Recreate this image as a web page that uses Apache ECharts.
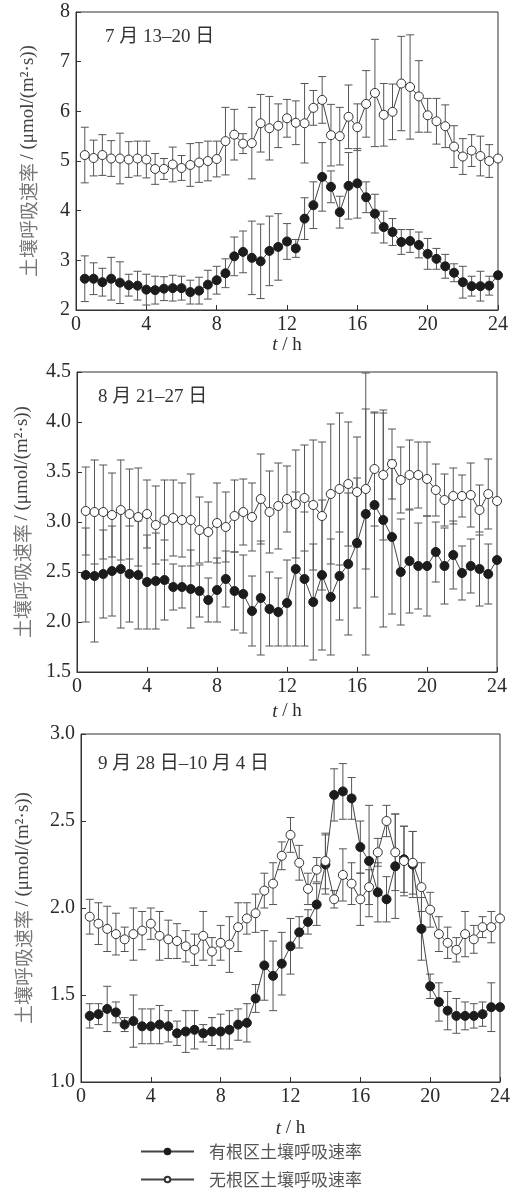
<!DOCTYPE html>
<html>
<head>
<meta charset="utf-8">
<script src="https://cdn.jsdelivr.net/npm/echarts@6/dist/echarts.min.js"></script>
<style>
  html, body { margin: 0; padding: 0; background: #fff; }
  #chart { width: 513px; height: 1192px; }
</style>
</head>
<body>
<div id="chart"></div>
<script>
// hours of the day (half-hour steps)
var hours = [0.5, 1, 1.5, 2, 2.5, 3, 3.5, 4, 4.5, 5, 5.5, 6, 6.5, 7, 7.5, 8,
             8.5, 9, 9.5, 10, 10.5, 11, 11.5, 12, 12.5, 13, 13.5, 14, 14.5, 15, 15.5, 16,
             16.5, 17, 17.5, 18, 18.5, 19, 19.5, 20, 20.5, 21, 21.5, 22, 22.5, 23, 23.5, 24];

var seriesNames = ['有根区土壤呼吸速率', '无根区土壤呼吸速率'];
var panelTitles = ['7 月 13–20 日', '8 月 21–27 日', '9 月 28 日–10 月 4 日'];

// 7月 13-20日
var withRoot1 = [2.63, 2.63, 2.56, 2.63, 2.55, 2.5, 2.49, 2.41, 2.4, 2.43, 2.44, 2.44, 2.36, 2.39, 2.51, 2.6,
                 2.74, 3.08, 3.17, 3.05, 2.98, 3.19, 3.27, 3.38, 3.24, 3.84, 4.11, 4.68, 4.48, 3.97, 4.5, 4.55,
                 4.27, 3.94, 3.67, 3.57, 3.37, 3.39, 3.31, 3.13, 3.03, 2.88, 2.75, 2.56, 2.48, 2.48, 2.49, 2.7];
var withRootErr1 = [0.46, 0.32, 0.28, 0.43, 0.42, 0.22, 0.29, 0.31, 0.28, 0.24, 0.26, 0.24, 0.24, 0.27, 0.29, 0.28,
                    0.29, 0.39, 0.42, 0.74, 0.75, 0.7, 0.67, 0.36, 0.18, 0.42, 0.47, 0.69, 0.32, 0.32, 0.67, 0.7,
                    0.31, 0.39, 0.32, 0.27, 0.25, 0.23, 0.26, 0.31, 0.21, 0.24, 0.18, 0.32, 0.2, 0.3, 0.19, 0];
var noRoot1 = [5.12, 5.06, 5.12, 5.05, 5.05, 5.03, 5.05, 5.03, 4.84, 4.84, 4.93, 4.86, 4.92, 4.97, 5.0, 5.04,
               5.4, 5.53, 5.35, 5.36, 5.76, 5.66, 5.71, 5.86, 5.77, 5.76, 6.07, 6.23, 5.52, 5.5, 5.89, 5.68,
               6.15, 6.37, 5.93, 5.99, 6.56, 6.49, 6.3, 5.92, 5.8, 5.7, 5.29, 5.09, 5.21, 5.1, 5.0, 5.05];
var noRootErr1 = [0.56, 0.36, 0.41, 0.36, 0.51, 0.36, 0.35, 0.37, 0.31, 0.21, 0.35, 0.25, 0.43, 0.4, 0.4, 0.36,
                  0.68, 0.51, 0.2, 0.72, 0.58, 0.64, 0.44, 0.38, 0.44, 0.8, 0.35, 0.47, 0.62, 0.58, 0.64, 0.47,
                  0.67, 1.08, 0.63, 0.56, 0.95, 1.05, 0.72, 0.34, 0.46, 0.43, 0.42, 0.36, 0.32, 0.4, 0.33, 0];

// 8月 21-27日
var withRoot2 = [2.47, 2.46, 2.48, 2.51, 2.53, 2.48, 2.47, 2.4, 2.41, 2.42, 2.35, 2.35, 2.33, 2.31, 2.22, 2.32,
                 2.43, 2.31, 2.28, 2.11, 2.24, 2.13, 2.1, 2.19, 2.53, 2.43, 2.2, 2.47, 2.25, 2.46, 2.58, 2.79,
                 3.08, 3.17, 3.02, 2.85, 2.5, 2.61, 2.56, 2.56, 2.7, 2.56, 2.67, 2.49, 2.56, 2.53, 2.48, 2.62];
var withRootErr2 = [0.47, 0.66, 0.44, 0.45, 0.59, 0.48, 0.54, 0.47, 0.48, 0.4, 0.23, 0.21, 0.39, 0.26, 0.22, 0.32,
                    0.28, 0.39, 0.39, 0.35, 0.57, 0.37, 0.34, 0.43, 0.77, 0.67, 0.58, 0.75, 0.58, 0.44, 0.71, 0.65,
                    1.41, 0.92, 1.07, 0.77, 0.53, 0.52, 0.43, 0.5, 0.3, 0.38, 0.34, 0.27, 0.27, 0.37, 0.3, 0];
var noRoot2 = [3.11, 3.1, 3.1, 3.07, 3.12, 3.08, 3.05, 3.08, 2.97, 3.02, 3.04, 3.02, 3.02, 2.92, 2.9, 2.99,
               2.95, 3.06, 3.1, 3.05, 3.23, 3.1, 3.16, 3.23, 3.18, 3.24, 3.17, 3.06, 3.28, 3.33, 3.38, 3.3,
               3.33, 3.53, 3.47, 3.58, 3.42, 3.47, 3.47, 3.43, 3.32, 3.22, 3.26, 3.26, 3.27, 3.12, 3.28, 3.21];
var noRootErr2 = [0.44, 0.52, 0.47, 0.42, 0.5, 0.45, 0.49, 0.34, 0.39, 0.4, 0.38, 0.37, 0.46, 0.33, 0.3, 0.4,
                  0.35, 0.36, 0.33, 0.34, 0.45, 0.41, 0.43, 0.33, 0.54, 0.53, 0.65, 0.74, 0.7, 0.76, 0.62, 0.55,
                  0.8, 0.57, 0.65, 0.35, 0.33, 0.35, 0.33, 0.37, 0.26, 0.26, 0.28, 0.21, 0.32, 0.25, 0.35, 0];

// 9月 28日-10月 4日
var withRoot3 = [1.38, 1.39, 1.42, 1.4, 1.33, 1.35, 1.32, 1.32, 1.33, 1.32, 1.28, 1.29, 1.3, 1.28, 1.29, 1.29,
                 1.3, 1.33, 1.34, 1.48, 1.67, 1.61, 1.68, 1.78, 1.86, 1.92, 2.02, 2.25, 2.65, 2.67, 2.63, 2.35,
                 2.27, 2.09, 2.05, 2.24, 2.28, 2.25, 1.88, 1.55, 1.46, 1.41, 1.38, 1.38, 1.38, 1.39, 1.43, 1.43];
var withRootErr3 = [0.07, 0.06, 0.13, 0.06, 0.04, 0.15, 0.1, 0.1, 0.11, 0.09, 0.07, 0.12, 0.11, 0.05, 0.08, 0.1,
                    0.11, 0.09, 0.11, 0.08, 0.2, 0.2, 0.18, 0.16, 0.09, 0.07, 0.12, 0.17, 0.15, 0.16, 0.12, 0.15,
                    0.32, 0.17, 0.13, 0.3, 0.19, 0.19, 0.18, 0.07, 0.11, 0.11, 0.1, 0.08, 0.07, 0.07, 0.14, 0];
var noRoot3 = [1.95, 1.91, 1.88, 1.85, 1.82, 1.85, 1.87, 1.91, 1.84, 1.82, 1.81, 1.78, 1.76, 1.84, 1.75, 1.8,
               1.79, 1.89, 1.94, 1.97, 2.1, 2.14, 2.3, 2.42, 2.26, 2.11, 2.22, 2.27, 2.05, 2.19, 2.14, 2.05,
               2.12, 2.32, 2.5, 2.32, 2.27, 2.26, 2.12, 1.99, 1.85, 1.8, 1.76, 1.85, 1.82, 1.89, 1.89, 1.94];
var noRootErr3 = [0.1, 0.12, 0.13, 0.12, 0.07, 0.15, 0.11, 0.09, 0.14, 0.11, 0.1, 0.09, 0.09, 0.14, 0.08, 0.1,
                  0.16, 0.14, 0.09, 0.11, 0.1, 0.12, 0.08, 0.1, 0.1, 0.09, 0.07, 0.16, 0.05, 0.15, 0.12, 0.15,
                  0.1, 0.08, 0.09, 0.22, 0.2, 0.18, 0.14, 0.1, 0.1, 0.09, 0.07, 0.13, 0.08, 0.06, 0.09, 0];

var yMin = [2, 1.5, 1.0];
var yMax = [8, 4.5, 3.0];
var yStep = [1, 0.5, 0.5];

var serif = "'Liberation Serif', 'Noto Sans CJK SC', serif";
var cjk = "'Noto Sans CJK SC', sans-serif";
var ink = '#2a2a2a';

var chart = echarts.init(document.getElementById('chart'));

function pairs(vals, errs) {
    var out = [];
    for (var i = 0; i < hours.length; i++) {
        out.push([hours[i], vals[i], errs ? errs[i] : 0]);
    }
    return out;
}

function errorBars(params, api) {
    var x = api.value(0), y = api.value(1), e = api.value(2);
    if (!e) return null;
    var hi = api.coord([x, y + e]);
    var lo = api.coord([x, y - e]);
    var w = 4;
    var st = { stroke: '#555', lineWidth: 1 };
    return {
        type: 'group',
        children: [
            { type: 'line', shape: { x1: hi[0], y1: hi[1], x2: lo[0], y2: lo[1] }, style: st },
            { type: 'line', shape: { x1: hi[0] - w, y1: hi[1], x2: hi[0] + w, y2: hi[1] }, style: st },
            { type: 'line', shape: { x1: lo[0] - w, y1: lo[1], x2: lo[0] + w, y2: lo[1] }, style: st }
        ]
    };
}

var panels = [
    { w: withRoot1, we: withRootErr1, n: noRoot1, ne: noRootErr1 },
    { w: withRoot2, we: withRootErr2, n: noRoot2, ne: noRootErr2 },
    { w: withRoot3, we: withRootErr3, n: noRoot3, ne: noRootErr3 }
];

var grids = [
    { left: 76, top: 12, width: 422, height: 298 },
    { left: 77, top: 372, width: 420, height: 300 },
    { left: 81, top: 734, width: 420, height: 348 }
];
var xNameGap = [22, 30, 37];
var yNameGap = [38, 45, 48];
var titleTop = [28, 388, 755];
var titleLeft = [105, 98, 98];

var xAxes = [], yAxes = [], series = [], titles = [];

for (var p = 0; p < 3; p++) {
    grids[p].show = true;
    grids[p].borderColor = '#333';
    grids[p].borderWidth = 1;
    grids[p].backgroundColor = 'transparent';

    xAxes.push({
        gridIndex: p,
        type: 'value',
        min: 0, max: 24, interval: 4,
        axisLine: { lineStyle: { color: '#333', width: 1 } },
        axisTick: { inside: true, length: 5, lineStyle: { color: '#333' } },
        axisLabel: { fontSize: 20, color: ink, fontFamily: serif, margin: 5 },
        splitLine: { show: false },
        name: '{i|t} / h',
        nameLocation: 'middle',
        nameGap: xNameGap[p],
        nameTextStyle: {
            fontSize: 19, color: ink, fontFamily: serif,
            rich: { i: { fontSize: 19, fontStyle: 'italic', color: ink, fontFamily: serif } }
        }
    });

    yAxes.push({
        gridIndex: p,
        type: 'value',
        min: yMin[p], max: yMax[p], interval: yStep[p],
        axisLine: { show: true, lineStyle: { color: '#333', width: 1 } },
        axisTick: { inside: true, length: 5, lineStyle: { color: '#333' } },
        axisLabel: {
            fontSize: 20, color: ink, fontFamily: serif, margin: 6,
            formatter: (function (step) {
                return function (v) { return step < 1 ? v.toFixed(1) : String(v); };
            })(yStep[p])
        },
        splitLine: { show: false },
        name: '{a|土壤呼吸速率} {b|/ (μmol/(m²·s))}',
        nameLocation: 'middle',
        nameGap: yNameGap[p],
        nameRotate: 90,
        nameTextStyle: {
            rich: {
                a: { fontSize: 19, color: '#777', fontFamily: cjk },
                b: { fontSize: 19, color: '#444', fontFamily: serif }
            }
        }
    });

    titles.push({
        text: panelTitles[p],
        left: titleLeft[p], top: titleTop[p], padding: 0,
        textStyle: { fontSize: 19, fontWeight: 'normal', color: '#333', fontFamily: serif }
    });

    series.push({
        type: 'custom', xAxisIndex: p, yAxisIndex: p, z: 1, clip: true,
        renderItem: errorBars, encode: { x: 0, y: 1 },
        data: pairs(panels[p].w, panels[p].we), silent: true
    });
    series.push({
        type: 'custom', xAxisIndex: p, yAxisIndex: p, z: 1, clip: true,
        renderItem: errorBars, encode: { x: 0, y: 1 },
        data: pairs(panels[p].n, panels[p].ne), silent: true
    });
    series.push({
        name: seriesNames[0], type: 'line', xAxisIndex: p, yAxisIndex: p, z: 3,
        data: pairs(panels[p].w), symbol: 'circle', symbolSize: 9,
        lineStyle: { color: '#444', width: 1 },
        itemStyle: { color: '#1c1c1c', borderColor: '#1c1c1c', borderWidth: 1 },
        emphasis: { disabled: true }
    });
    series.push({
        name: seriesNames[1], type: 'line', xAxisIndex: p, yAxisIndex: p, z: 4,
        data: pairs(panels[p].n), symbol: 'circle', symbolSize: 9,
        lineStyle: { color: '#444', width: 1 },
        itemStyle: { color: '#fff', borderColor: '#333', borderWidth: 1 },
        emphasis: { disabled: true }
    });
}

var option = {
    backgroundColor: '#fff',
    animation: false,
    title: titles,
    grid: grids,
    xAxis: xAxes,
    yAxis: yAxes,
    legend: {
        data: seriesNames,
        orient: 'vertical',
        left: 140, top: 1143, padding: 0,
        itemWidth: 53, itemHeight: 7, itemGap: 11,
        textStyle: { fontSize: 17, color: '#555', fontFamily: cjk, padding: [0, 0, 0, 10] }
    },
    series: series
};

chart.setOption(option);
</script>
</body>
</html>
